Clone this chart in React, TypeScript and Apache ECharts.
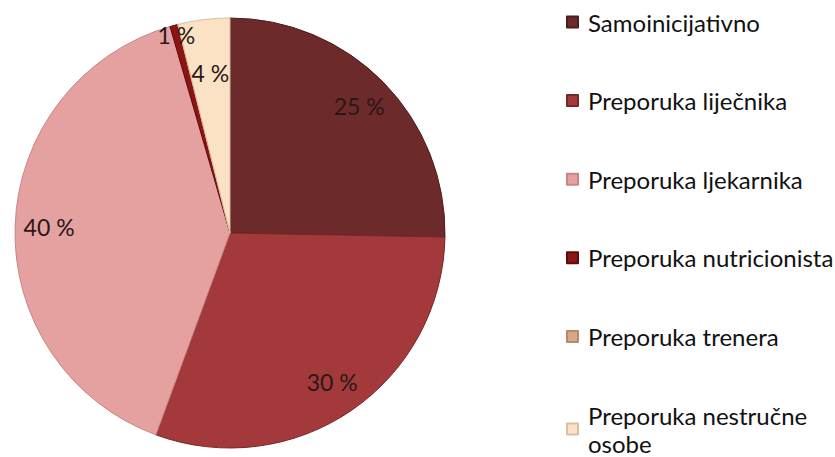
import React, { useEffect, useRef } from "react";
import * as echarts from "echarts";

const categories = [
  "Samoinicijativno",
  "Preporuka liječnika",
  "Preporuka ljekarnika",
  "Preporuka nutricionista",
  "Preporuka trenera",
  "Preporuka nestručne osobe",
];
const values = [25.3, 30.3, 39.9, 0.6, 0, 3.9];
const colors = ["#6D2A2A", "#A3393A", "#E5A0A0", "#8E1414", "#D6A888", "#FCE2C4"];
const borders = ["#4E1C1C", "#7A2626", "#C98484", "#5E0A0A", "#B88868", "#D9BFA0"];
// which label ring each slice's label sits on (0: main, 1: outer, 2: inner)
const labelRing = [0, 0, 0, 1, 0, 2];

export default function App() {
  const ref = useRef<HTMLDivElement>(null);
  useEffect(() => {
    if (!ref.current) return;
    const chart = echarts.init(ref.current, null, { renderer: "svg" });
    const center = [230, 233];
    const slices = categories.map((name, i) => ({
      name,
      value: values[i],
      itemStyle: { color: colors[i], borderColor: borders[i], borderWidth: 1 },
    }));
    const ringRadii = [
      [141, 215],
      [190, 215],
      [101, 215],
    ];
    const labelSeries = ringRadii.map((radius, ring) => ({
      type: "pie",
      center,
      radius,
      startAngle: 90,
      clockwise: true,
      silent: true,
      avoidLabelOverlap: false,
      labelLine: { show: false },
      emphasis: { disabled: true },
      label: {
        show: true,
        position: "inside",
        fontFamily: "Lato",
        fontSize: 23,
        color: "#2a1818",
        formatter: (p: any) => `${Math.round(p.percent)} %`,
      },
      data: categories.map((name, i) => ({
        name,
        value: values[i],
        itemStyle: { color: "rgba(0,0,0,0)", borderWidth: 0 },
        label: { show: values[i] > 0 && labelRing[i] === ring },
      })),
    }));
    chart.setOption({
      animation: false,
      backgroundColor: "#ffffff",
      legend: {
        orient: "vertical",
        left: 566,
        top: 8,
        height: 1000,
        padding: 0,
        data: categories,
        icon: "rect",
        itemWidth: 11,
        itemHeight: 11,
        itemGap: 50.6,
        selectedMode: false,
        formatter: (n: string) => n.replace(" osobe", "\nosobe"),
        textStyle: {
          fontFamily: "Lato",
          fontSize: 24,
          lineHeight: 28,
          color: "#111111",
          padding: [0, 0, 0, 5],
        },
      },
      series: [
        {
          type: "pie",
          center,
          radius: [0, 215],
          startAngle: 90,
          clockwise: true,
          avoidLabelOverlap: false,
          label: { show: false },
          labelLine: { show: false },
          emphasis: { disabled: true },
          data: slices,
        },
        ...labelSeries,
      ],
    });
    return () => chart.dispose();
  }, []);
  return (
    <div
      ref={ref}
      style={{ position: "fixed", left: 0, top: 0, width: 835, height: 457 }}
    />
  );
}
